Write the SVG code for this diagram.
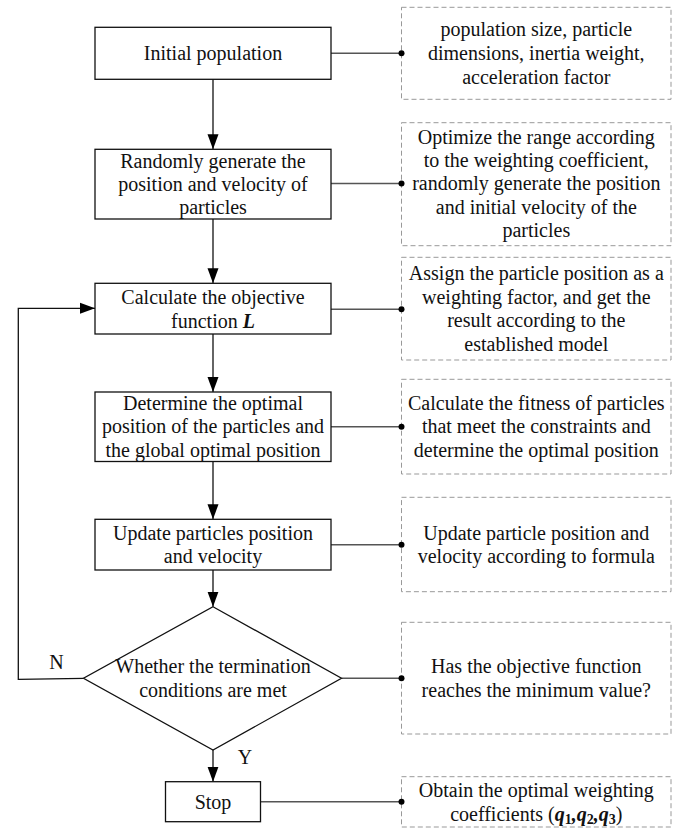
<svg xmlns="http://www.w3.org/2000/svg" width="681" height="828" viewBox="0 0 681 828">
<style>
text{font-family:"Liberation Serif","Times New Roman",serif;font-size:20px;fill:#111;text-anchor:middle}
.box{fill:#fff;stroke:#111;stroke-width:1.3}
.note{fill:#fff;stroke:#999;stroke-width:1;stroke-dasharray:5,3}
.flow{fill:none;stroke:#111;stroke-width:1.3}
.link{fill:none;stroke:#555;stroke-width:1.6}
.dot{fill:#000}
.bi{font-weight:bold;font-style:italic}
.sub{font-weight:bold;font-size:14px}
</style>
<defs>
<marker id="ah" markerUnits="userSpaceOnUse" markerWidth="16" markerHeight="12" refX="15" refY="6" orient="auto">
<path d="M0,0.5 L15,6 L0,11.5 Z" fill="#000"/>
</marker>
</defs>

<g id="connectors">
<line class="flow" x1="213" y1="79.3" x2="213" y2="149.3" marker-end="url(#ah)"/>
<line class="flow" x1="213" y1="219" x2="213" y2="283.3" marker-end="url(#ah)"/>
<line class="flow" x1="213" y1="334" x2="213" y2="392" marker-end="url(#ah)"/>
<line class="flow" x1="213" y1="461.5" x2="213" y2="519.3" marker-end="url(#ah)"/>
<line class="flow" x1="213" y1="570" x2="213" y2="606.7" marker-end="url(#ah)"/>
<line class="flow" x1="213" y1="750" x2="213" y2="781.7" marker-end="url(#ah)"/>
<polyline class="flow" points="83.5,678.3 18.3,679.3 18.3,308.3 95,308.3" marker-end="url(#ah)"/>
<line class="link" x1="331" y1="53.3" x2="401.5" y2="53.3"/>
<line class="link" x1="331" y1="183.5" x2="401.5" y2="183.5"/>
<line class="link" x1="331" y1="309.3" x2="401.5" y2="309.3"/>
<line class="link" x1="331" y1="426.7" x2="401.5" y2="426.7"/>
<line class="link" x1="331" y1="544.7" x2="401.5" y2="544.7"/>
<line class="link" x1="341.5" y1="678.3" x2="401.5" y2="678.3"/>
<line class="link" x1="260.5" y1="801.7" x2="401.5" y2="801.7"/>
<text x="56.5" y="668.5">N</text>
<text x="245" y="763.5">Y</text>
</g>

<g id="n1">
<rect class="box" x="95" y="27.3" width="236" height="52"/>
<text x="213" y="60">Initial population</text>
</g>
<g id="n2">
<rect class="box" x="95" y="149.3" width="236" height="69.7"/>
<text x="213" y="168">Randomly generate the</text>
<text x="213" y="191">position and velocity of</text>
<text x="213" y="214">particles</text>
</g>
<g id="n3">
<rect class="box" x="95" y="283.3" width="236" height="50.7"/>
<text x="213" y="304">Calculate the objective</text>
<text x="213" y="327.5">function <tspan class="bi">L</tspan></text>
</g>
<g id="n4">
<rect class="box" x="95" y="392" width="236" height="69.5"/>
<text x="213" y="410">Determine the optimal</text>
<text x="213" y="433.3">position of the particles and</text>
<text x="213" y="456.6">the global optimal position</text>
</g>
<g id="n5">
<rect class="box" x="95" y="519.3" width="236" height="50.7"/>
<text x="213" y="540">Update particles position</text>
<text x="213" y="563.3">and velocity</text>
</g>
<g id="n6">
<polygon class="box" points="213,606.7 341.5,678.3 213,750 83.5,678.3"/>
<text x="213" y="673.3">Whether the termination</text>
<text x="213" y="697.3">conditions are met</text>
</g>
<g id="n7">
<rect class="box" x="165.5" y="781.7" width="95" height="40"/>
<text x="213" y="809">Stop</text>
</g>

<g id="d1">
<rect class="note" x="401.5" y="7.3" width="269.5" height="92"/>
<text x="536.3" y="35.8">population size, particle</text>
<text x="536.3" y="59.8">dimensions, inertia weight,</text>
<text x="536.3" y="83.8">acceleration factor</text>
<circle class="dot" cx="401.5" cy="53.3" r="3"/>
</g>
<g id="d2">
<rect class="note" x="401.5" y="122.7" width="269.5" height="123"/>
<text x="536.3" y="143.6">Optimize the range according</text>
<text x="536.3" y="167">to the weighting coefficient,</text>
<text x="536.3" y="190.4">randomly generate the position</text>
<text x="536.3" y="213.8">and initial velocity of the</text>
<text x="536.3" y="237.2">particles</text>
<circle class="dot" cx="401.5" cy="183.5" r="3"/>
</g>
<g id="d3">
<rect class="note" x="401.5" y="257.3" width="269.5" height="102.7"/>
<text x="536.3" y="280">Assign the particle position as a</text>
<text x="536.3" y="303.5">weighting factor, and get the</text>
<text x="536.3" y="327">result according to the</text>
<text x="536.3" y="350.5">established model</text>
<circle class="dot" cx="401.5" cy="309.3" r="3"/>
</g>
<g id="d4">
<rect class="note" x="401.5" y="379.3" width="269.5" height="94.7"/>
<text x="536.3" y="410">Calculate the fitness of particles</text>
<text x="536.3" y="433.3">that meet the constraints and</text>
<text x="536.3" y="456.6">determine the optimal position</text>
<circle class="dot" cx="401.5" cy="426.7" r="3"/>
</g>
<g id="d5">
<rect class="note" x="401.5" y="497.3" width="269.5" height="94.4"/>
<text x="536.3" y="540">Update particle position and</text>
<text x="536.3" y="563.3">velocity according to formula</text>
<circle class="dot" cx="401.5" cy="544.7" r="3"/>
</g>
<g id="d6">
<rect class="note" x="401.5" y="622.3" width="269.5" height="111.7"/>
<text x="536.3" y="673.3">Has the objective function</text>
<text x="536.3" y="697.3">reaches the minimum value?</text>
<circle class="dot" cx="401.5" cy="678.3" r="3"/>
</g>
<g id="d7">
<rect class="note" x="401.5" y="776.7" width="269.5" height="50.3"/>
<text x="536.3" y="796.5">Obtain the optimal weighting</text>
<text x="536.3" y="820.5">coefficients (<tspan class="bi">q</tspan><tspan class="sub" dy="3">1</tspan><tspan class="bi" dy="-3">,q</tspan><tspan class="sub" dy="3">2</tspan><tspan class="bi" dy="-3">,q</tspan><tspan class="sub" dy="3">3</tspan><tspan dy="-3">)</tspan></text>
<circle class="dot" cx="401.5" cy="801.7" r="3"/>
</g>
</svg>
